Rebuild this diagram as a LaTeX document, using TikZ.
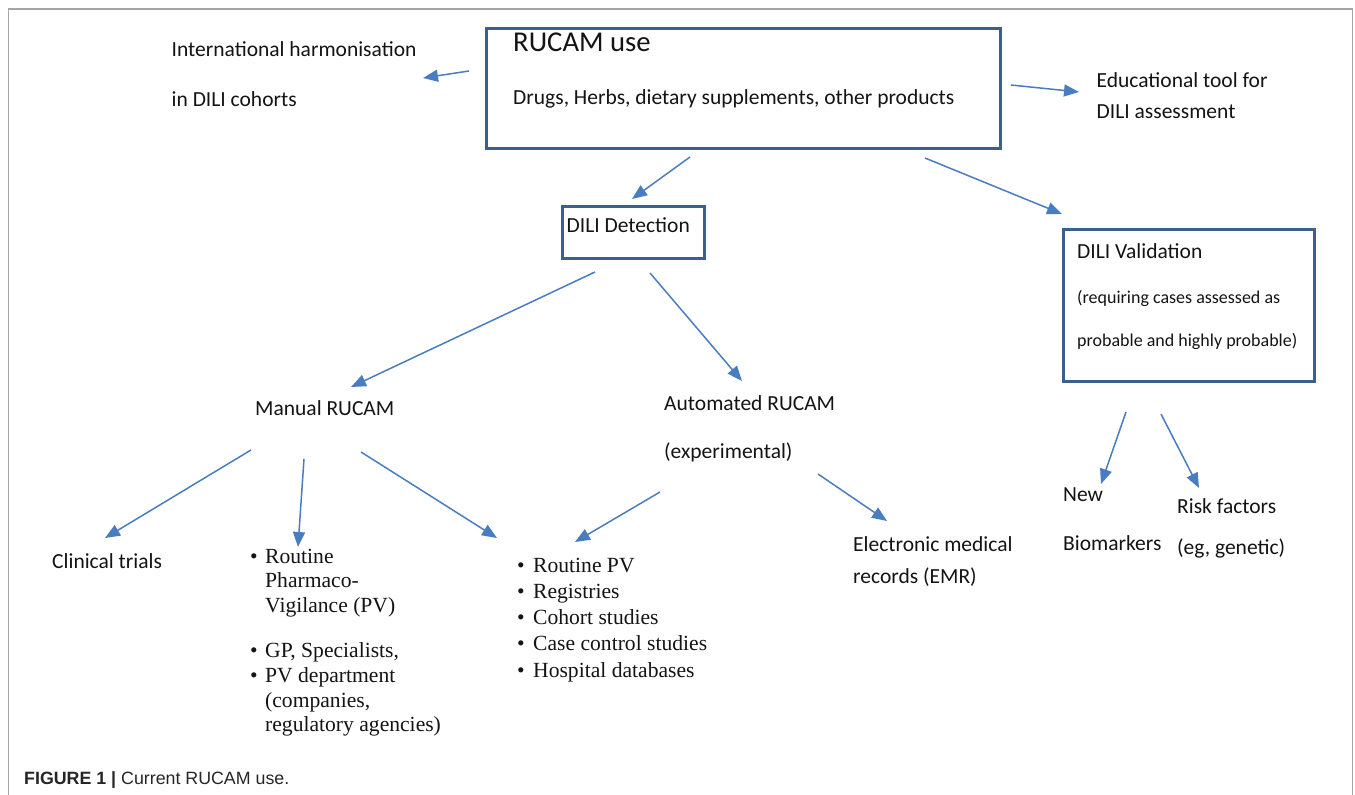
\documentclass[tikz,border=0pt]{standalone}
\usepackage{fontspec}
\setmainfont{Carlito}
\newfontfamily\tnr{Liberation Serif}
\newfontfamily\arialf{Liberation Sans}
\usetikzlibrary{arrows.meta}
\definecolor{boxblue}{RGB}{59,95,143}
\definecolor{arrowblue}{RGB}{74,125,192}
\definecolor{framegray}{RGB}{165,165,165}
\definecolor{txt}{RGB}{20,20,20}
\begin{document}
\begin{tikzpicture}[x=1pt,y=-1pt,
  lbl/.style={inner sep=0pt, anchor=base west, text=txt, font=\fontsize{21.5}{26}\selectfont},
  small/.style={lbl, font=\fontsize{18}{22}\selectfont},
  big/.style={lbl, font=\fontsize{28.7}{34}\selectfont},
  blist/.style={inner sep=0pt, anchor=base west, text=txt},
  box/.style={draw=boxblue, line width=3pt, anchor=north west, inner sep=0pt},
  conn/.style={draw=arrowblue, line width=1.5pt, -{Triangle[length=15pt,width=12pt]}}]
\useasboundingbox (0,0) rectangle (1355,795);
\fill[white] (0,0) rectangle (1355,795);
% frame
\draw[framegray, line width=1.3pt] (8.5,795) -- (8.5,9) -- (1352.5,9) -- (1352.5,795);

% boxes
\node[box, minimum width=514pt, minimum height=120pt] (main) at (485,27) {};
\node[box, line width=2.7pt, minimum width=142pt, minimum height=52pt] (det) at (561,205) {};
\node[box, line width=2.7pt, minimum width=251pt, minimum height=152pt] (val) at (1062,228) {};

% texts
\node[big] (t-rucam) at (513,51) {RUCAM use};
\node[lbl] (t-drugs) at (513,104) {Drugs, Herbs, dietary supplements, other products};
\node[lbl] (t-int1) at (171.5,56) {International harmonisation};
\node[lbl] (t-int2) at (171.5,106) {in DILI cohorts};
\node[lbl] (t-edu1) at (1096.5,87) {Educational tool for};
\node[lbl] (t-edu2) at (1096.5,118) {DILI assessment};
\node[lbl] (t-det) at (566.5,232) {DILI Detection};
\node[lbl] (t-val) at (1077,258) {DILI Validation};
\node[small] (t-val2) at (1077,303) {(requiring cases assessed as};
\node[small] (t-val3) at (1077,346) {probable and highly probable)};
\node[lbl] (t-man) at (255,415) {Manual RUCAM};
\node[lbl] (t-aut1) at (664,410) {Automated RUCAM};
\node[lbl] (t-aut2) at (664,458) {(experimental)};
\node[lbl] (t-clin) at (52,568) {Clinical trials};
\node[lbl] (t-emr1) at (853,551) {Electronic medical};
\node[lbl] (t-emr2) at (853,583) {records (EMR)};
\node[lbl] (t-new1) at (1063,501) {New};
\node[lbl] (t-new2) at (1063,550) {Biomarkers};
\node[lbl] (t-risk1) at (1177,513) {Risk factors};
\node[lbl] (t-risk2) at (1177,554) {(eg, genetic)};

\node[blist] (list1) at (250,563) {\tnr\fontsize{21.6}{24.8}\selectfont
  \begin{tabular}[t]{@{}p{15pt}@{}l@{}}
  \textbullet & Routine\\
  & Pharmaco-\\
  & Vigilance (PV)\\[20pt]
  \textbullet & GP, Specialists,\\
  \textbullet & PV department\\
  & (companies,\\
  & regulatory agencies)
  \end{tabular}};
\node[blist] (list2) at (517,572) {\tnr\fontsize{21.6}{26.3}\selectfont
  \begin{tabular}[t]{@{}p{16pt}@{}l@{}}
  \textbullet & Routine PV\\
  \textbullet & Registries\\
  \textbullet & Cohort studies\\
  \textbullet & Case control studies\\
  \textbullet & Hospital databases
  \end{tabular}};

\node[inner sep=0pt, anchor=base west, text=black!85, font=\arialf\fontsize{17.8}{21}\selectfont] (cap) at (24,784) {\textbf{FIGURE 1 |} Current RUCAM use.};

% connector ends
\coordinate (a1s) at (469,71);   \coordinate (a1e) at (423,78);
\coordinate (a2s) at (1011,85);  \coordinate (a2e) at (1079,92);
\coordinate (a3s) at (690,157);  \coordinate (a3e) at (632,199);
\coordinate (a4s) at (925,158);  \coordinate (a4e) at (1062,214);
\coordinate (a5s) at (595,272);  \coordinate (a5e) at (351,387);
\coordinate (a6s) at (650,273);  \coordinate (a6e) at (742,381);
\coordinate (a7s) at (251,450);  \coordinate (a7e) at (105,538);
\coordinate (a8s) at (304,459);  \coordinate (a8e) at (298,547);
\coordinate (a9s) at (361,452);  \coordinate (a9e) at (497,538);
\coordinate (a10s) at (660,492); \coordinate (a10e) at (575,542);
\coordinate (a11s) at (818,474); \coordinate (a11e) at (887,521);
\coordinate (a12s) at (1126,412); \coordinate (a12e) at (1101,484);
\coordinate (a13s) at (1161,414); \coordinate (a13e) at (1199,488);

\foreach \i in {1,...,13} { \draw[conn] (a\i s) -- (a\i e); }
\end{tikzpicture}
\end{document}
